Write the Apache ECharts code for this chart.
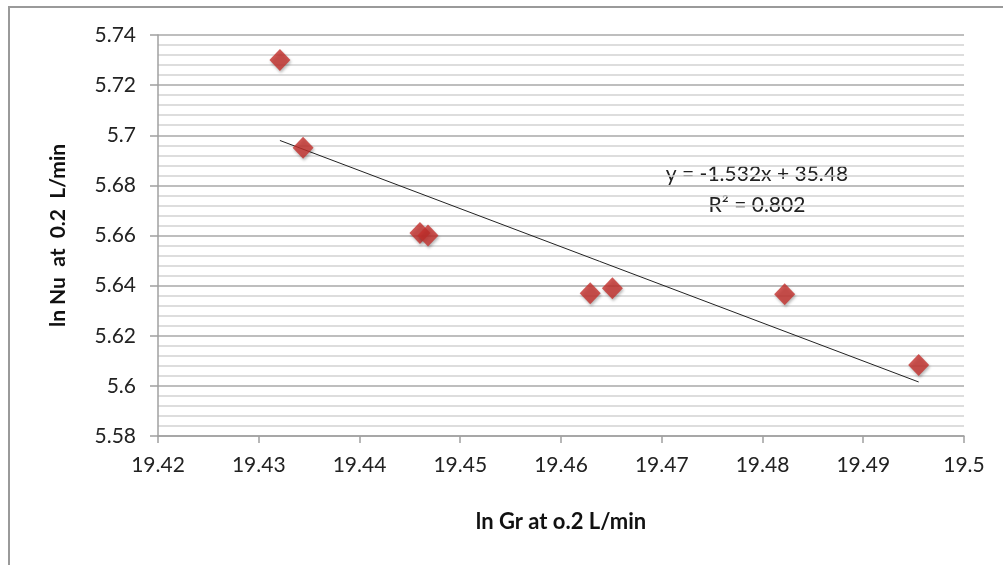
<!DOCTYPE html>
<html>
<head>
<meta charset="utf-8">
<script src="https://cdn.jsdelivr.net/npm/echarts@6/dist/echarts.min.js"></script>
<style>
  html, body { margin: 0; padding: 0; background: #fff; }
  #main { width: 1003px; height: 565px; }
</style>
</head>
<body>
<div id="main"></div>
<script>
// 读取自图片的数据点
var lnGr = [19.4321, 19.4344, 19.4460, 19.4468, 19.4629, 19.4651, 19.4822, 19.4955]
var lnNu = [5.730, 5.695, 5.661, 5.660, 5.637, 5.639, 5.6366, 5.6083]
var eqText = ['y = -1.532x + 35.48', 'R\u00b2 = 0.802']

var points = lnGr.map(function (x, i) { return [x, lnNu[i]] })

// 最小二乘趋势线
var n = lnGr.length
var mx = lnGr.reduce(function (a, b) { return a + b }, 0) / n
var my = lnNu.reduce(function (a, b) { return a + b }, 0) / n
var sxy = 0, sxx = 0
for (var i = 0; i < n; i++) {
  sxy += (lnGr[i] - mx) * (lnNu[i] - my)
  sxx += (lnGr[i] - mx) * (lnGr[i] - mx)
}
var k = sxy / sxx
var b = my - k * mx
var xMin = Math.min.apply(null, lnGr)
var xMax = Math.max.apply(null, lnGr)
var trend = [[xMin, k * xMin + b], [xMax, k * xMax + b]]

var font = 'Lato, "Open Sans", sans-serif'
var myChart = echarts.init(document.getElementById('main'))

myChart.setOption({
  animation: false,
  backgroundColor: '#fff',
  grid: { left: 158, right: 39, top: 35, bottom: 129 },
  graphic: [
    {
      type: 'rect',
      shape: { x: 9, y: 7, width: 1010, height: 600 },
      style: { fill: 'none', stroke: '#9a9a9a', lineWidth: 2 }
    },
    {
      type: 'text', x: 757, y: 174,
      style: { text: eqText[0], fill: '#222', font: '21px ' + font, align: 'center', verticalAlign: 'middle' }
    },
    {
      type: 'text', x: 757, y: 205,
      style: { text: eqText[1], fill: '#222', font: '21px ' + font, align: 'center', verticalAlign: 'middle' }
    }
  ],
  xAxis: {
    type: 'value',
    min: 19.42,
    max: 19.5,
    interval: 0.01,
    name: 'ln Gr at o.2 L/min',
    nameLocation: 'middle',
    nameGap: 75,
    nameTextStyle: { fontFamily: font, fontWeight: 'bold', fontSize: 22, color: '#111' },
    axisLine: { show: true, lineStyle: { color: '#a0a0a0', width: 1.5 } },
    axisTick: { show: true, length: 7, lineStyle: { color: '#a0a0a0', width: 1.5 } },
    axisLabel: { fontFamily: font, fontSize: 21, color: '#222', margin: 19 },
    splitLine: { show: false }
  },
  yAxis: {
    type: 'value',
    min: 5.58,
    max: 5.74,
    interval: 0.02,
    name: 'ln Nu  at  0.2  L/min',
    nameLocation: 'middle',
    nameGap: 89,
    nameTextStyle: { fontFamily: font, fontWeight: 'bold', fontSize: 21, color: '#111' },
    axisLine: { show: true, lineStyle: { color: '#a0a0a0', width: 1.5 } },
    axisTick: { show: true, length: 8, lineStyle: { color: '#a0a0a0', width: 1.5 } },
    axisLabel: { fontFamily: font, fontSize: 21, color: '#222', margin: 22 },
    splitLine: { show: true, lineStyle: { color: '#a8a8a8', width: 1.5 } },
    minorTick: { show: false, splitNumber: 5 },
    minorSplitLine: { show: true, lineStyle: { color: '#d2d2d2', width: 1.5 } }
  },
  series: [
    {
      type: 'line',
      data: trend,
      symbol: 'none',
      lineStyle: { color: '#222', width: 1 },
      z: 3
    },
    {
      type: 'scatter',
      data: points,
      symbol: 'diamond',
      symbolSize: [21, 22],
      itemStyle: {
        color: '#c4302c',
        shadowBlur: 3,
        shadowColor: 'rgba(0,0,0,0.35)',
        shadowOffsetX: 1,
        shadowOffsetY: 2
      },
      z: 4
    }
  ]
})
</script>
</body>
</html>
